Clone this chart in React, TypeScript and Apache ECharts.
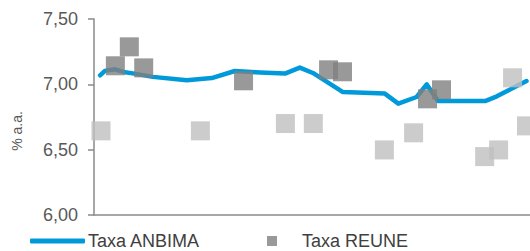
import React, { useEffect, useRef } from "react";
import * as echarts from "echarts";

// x positions are on a 0..100 relative time scale across the plot width
const anbimaX = [1.4, 2.5, 4.8, 7.1, 8.9, 13.5, 21.3, 27.0, 32.3, 38.1, 43.8, 47.2, 50.2, 57.1, 66.7, 69.8, 74.0, 76.3, 78.9, 89.7, 92.4, 99.2];
const anbimaY = [7.069, 7.103, 7.115, 7.092, 7.084, 7.057, 7.031, 7.048, 7.102, 7.09, 7.082, 7.128, 7.087, 6.941, 6.929, 6.852, 6.903, 7.0, 6.872, 6.872, 6.908, 7.025];

const reuneX = [4.9, 8.1, 11.4, 34.3, 53.8, 57.0, 76.5, 79.7];
const reuneY = [7.142, 7.287, 7.126, 7.027, 7.111, 7.096, 6.889, 6.958];

const otherX = [1.6, 24.4, 43.9, 50.3, 66.6, 73.3, 89.6, 92.8, 96.0, 99.2];
const otherY = [6.644, 6.644, 6.7, 6.7, 6.498, 6.629, 6.447, 6.498, 7.05, 6.682];

const yTicks = { min: 6, max: 7.5, interval: 0.5 };
const yName = "% a.a.";
const seriesNames = ["Taxa ANBIMA", "Taxa REUNE", "Outras"];

const zip = (xs: number[], ys: number[]) => xs.map((x, i) => [x, ys[i]]);

const FONT = "Liberation Sans, Arial, sans-serif";

export default function App() {
  const ref = useRef<HTMLDivElement>(null);
  useEffect(() => {
    document.body.style.margin = "0";
    const chart = echarts.init(ref.current!, undefined, { renderer: "svg" });
    chart.setOption({
      animation: false,
      textStyle: { fontFamily: FONT },
      grid: { left: 94, right: 0, top: 19, bottom: 36 },
      xAxis: {
        type: "value",
        min: 0,
        max: 100,
        axisLine: { show: true, onZero: false, lineStyle: { color: "#8a8a8a", width: 1.5 } },
        axisTick: { show: false },
        axisLabel: { show: false },
        splitLine: { show: false },
      },
      yAxis: {
        type: "value",
        min: yTicks.min,
        max: yTicks.max,
        interval: yTicks.interval,
        axisLine: { show: true, lineStyle: { color: "#8a8a8a", width: 1.5 } },
        axisTick: { show: true, length: 6, lineStyle: { color: "#8a8a8a", width: 1.5 } },
        axisLabel: {
          margin: 16,
          color: "#595959",
          fontSize: 18,
          fontFamily: FONT,
          formatter: (v: number) => v.toFixed(2).replace(".", ","),
        },
        splitLine: { show: false },
      },
      legend: [
        {
          data: [seriesNames[0]],
          left: 30,
          top: 232,
          padding: 0,
          itemWidth: 55,
          itemHeight: 5,
          icon: "roundRect",
          textStyle: { color: "#404040", fontSize: 18, fontFamily: FONT, padding: [0, 0, 0, -2] },
        },
        {
          data: [seriesNames[1]],
          left: 267,
          top: 232,
          padding: 0,
          itemWidth: 10,
          itemHeight: 10,
          icon: "rect",
          textStyle: { color: "#404040", fontSize: 18, fontFamily: FONT, padding: [0, 0, 0, 20] },
        },
      ],
      graphic: [
        {
          type: "text",
          x: 17,
          y: 131,
          rotation: Math.PI / 2,
          style: {
            text: yName,
            fill: "#595959",
            fontSize: 14,
            fontFamily: FONT,
            align: "center",
            verticalAlign: "middle",
          },
        },
      ],
      series: [
        {
          name: seriesNames[0],
          type: "line",
          data: zip(anbimaX, anbimaY),
          symbol: "none",
          smooth: false,
          color: "#009ada",
          lineStyle: { width: 4.5, color: "#009ada", cap: "round", join: "round" },
          z: 2,
        },
        {
          name: seriesNames[2],
          type: "scatter",
          data: zip(otherX, otherY),
          symbol: "rect",
          symbolSize: 19,
          itemStyle: { color: "#bfbfbf" },
          z: 3,
        },
        {
          name: seriesNames[1],
          type: "scatter",
          data: zip(reuneX, reuneY),
          symbol: "rect",
          symbolSize: 19,
          itemStyle: { color: "#808080" },
          z: 4,
        },
      ],
    });
    return () => chart.dispose();
  }, []);
  return (
    <div
      ref={ref}
      style={{ position: "absolute", left: 0, top: 0, width: 530, height: 251 }}
    />
  );
}
